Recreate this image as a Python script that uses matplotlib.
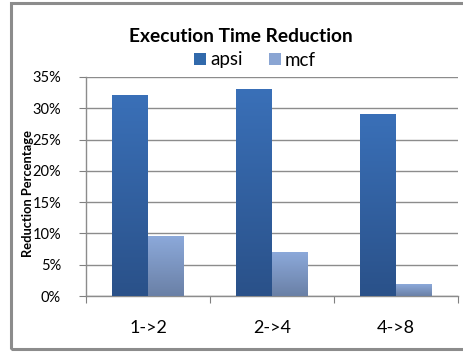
import numpy as np
import matplotlib
matplotlib.use("Agg")
import matplotlib.pyplot as plt
from matplotlib.patches import Rectangle, Patch
from matplotlib.colors import LinearSegmentedColormap

categories = ["1->2", "2->4", "4->8"]
apsi = [32.0, 33.0, 29.0]
mcf = [9.5, 7.0, 1.8]
series_names = ["apsi", "mcf"]
yticks = [0, 5, 10, 15, 20, 25, 30, 35]

plt.rcParams['font.family'] = ['Lato', 'DejaVu Sans']

fig = plt.figure(figsize=(4.64, 3.52), dpi=100)
# outer frame
frame = Rectangle((11/464, 1 - 349/352), (480 - 11) / 464, (349 - 3) / 352,
                  transform=fig.transFigure, fill=False, edgecolor='#8c8c8c',
                  linewidth=2.2, zorder=0)
fig.patches.append(frame)

ax = fig.add_axes([86/464, 1 - 296/352, (458 - 86)/464, (296 - 77)/352])

cmap_apsi = LinearSegmentedColormap.from_list('a', ['#2a5189', '#3a70b8'])
cmap_mcf = LinearSegmentedColormap.from_list('m', ['#6a80a6', '#8ca9da'])

bw = 0.29
grad = np.linspace(0, 1, 256).reshape(-1, 1)
for i, (a, m) in enumerate(zip(apsi, mcf)):
    for x0, v, cm in [(i + 0.5 - bw, a, cmap_apsi), (i + 0.5, m, cmap_mcf)]:
        ax.imshow(grad, extent=[x0, x0 + bw, 0, v], origin='lower', cmap=cm,
                  aspect='auto', zorder=3)
ax.set_aspect('auto')
ax.set_xlim(0, 3)
ax.set_ylim(0, 35)

ax.set_yticks(yticks)
ax.set_yticklabels([f"{t}%" for t in yticks], fontsize=10.5)
ax.set_xticks([0, 1, 2, 3])
ax.set_xticklabels([])
ax.set_xticks([0.5, 1.5, 2.5], minor=True)
ax.set_xticklabels(categories, minor=True, fontsize=13)
ax.tick_params(axis='x', which='minor', length=0, pad=17)
ax.tick_params(axis='x', which='major', length=5, color='#808080')
ax.tick_params(axis='y', length=5, color='#808080', pad=13)
ax.grid(axis='y', color='#8c8c8c', linewidth=1.0, zorder=1)
ax.set_axisbelow(True)
for s in ['top', 'right']:
    ax.spines[s].set_visible(False)
for s in ['left', 'bottom']:
    ax.spines[s].set_color('#8c8c8c')
    ax.spines[s].set_linewidth(1.0)

ax.set_ylabel("Reduction Percentage", fontsize=9.3, fontweight='bold')
ax.yaxis.set_label_coords((34 - 86) / (458 - 86), 0.47)

fig.text(241/464, 1 - 36/352, "Execution Time Reduction", ha='center', va='center',
         fontsize=13.8, fontweight='bold')
handles = [Patch(facecolor='#3169ab'), Patch(facecolor='#8aa5d3')]
fig.legend(handles, series_names, loc='center', bbox_to_anchor=(255/464, 1 - 60/352),
           ncol=2, frameon=False, fontsize=13.5, handlelength=0.65, handleheight=0.65,
           handletextpad=0.2, columnspacing=1.4, borderpad=0)

fig.savefig("out.png", dpi=100)
